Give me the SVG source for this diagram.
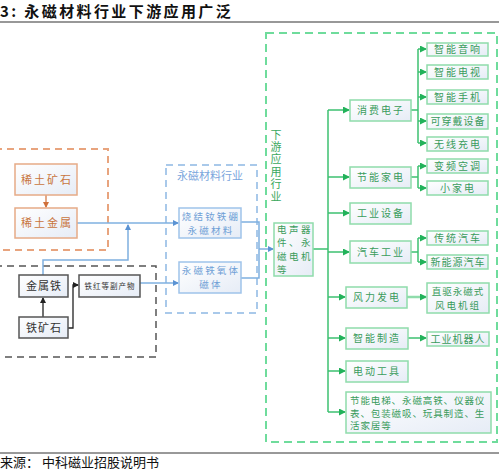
<svg xmlns="http://www.w3.org/2000/svg" width="499" height="471" viewBox="0 0 499 471">
<defs>
  <linearGradient id="bf" x1="0" y1="0" x2="1" y2="1">
    <stop offset="0" stop-color="#ffffff"/>
    <stop offset="1" stop-color="#e6ecf6"/>
  </linearGradient>
  <marker id="mO" markerWidth="6" markerHeight="6" refX="5" refY="3" orient="auto" markerUnits="userSpaceOnUse"><path d="M0,0 L6,3 L0,6 Z" fill="#d0703a"/></marker>
  <marker id="mB" markerWidth="6" markerHeight="6" refX="5" refY="3" orient="auto" markerUnits="userSpaceOnUse"><path d="M0,0 L6,3 L0,6 Z" fill="#5b93d3"/></marker>
  <marker id="mK" markerWidth="6" markerHeight="6" refX="5" refY="3" orient="auto" markerUnits="userSpaceOnUse"><path d="M0,0 L6,3 L0,6 Z" fill="#222"/></marker>
  <marker id="mG" markerWidth="7" markerHeight="7" refX="6" refY="3.5" orient="auto" markerUnits="userSpaceOnUse"><path d="M0,0 L7,3.5 L0,7 Z" fill="#22b25a"/></marker>
</defs>
<style>
  .t{font-family:"Noto Sans CJK SC","Noto Sans",sans-serif;}
  .bo{fill:url(#bf);stroke:#e6ab87;stroke-width:1.5;}
  .bb{fill:url(#bf);stroke:#9fc3ea;stroke-width:1.5;}
  .bk{fill:url(#bf);stroke:#555;stroke-width:1.5;}
  .bg{fill:url(#bf);stroke:#8fdcab;stroke-width:1.5;}
  .to{fill:#c8753e;font-size:11px;letter-spacing:2px;}
  .tb{fill:#6f9fd6;font-size:9.5px;letter-spacing:2.2px;}
  .tk{fill:#333;font-size:11px;letter-spacing:1px;}
  .tg{fill:#3a9c5c;font-size:10px;letter-spacing:2px;}
  .tg1{letter-spacing:1px;}
  .sm{font-size:9.5px;}
  .lo{stroke:#d0703a;stroke-width:1.2;fill:none;}
  .lb{stroke:#7fb0e0;stroke-width:1.5;fill:none;}
  .lk{stroke:#222;stroke-width:1.3;fill:none;}
  .lg{stroke:#3cc070;stroke-width:1.5;fill:none;}
</style>
<rect width="499" height="471" fill="#ffffff"/>
<!-- title -->
<text class="t" x="0" y="17" font-size="15" font-weight="bold" fill="#111" letter-spacing="2.4">3:  永磁材料行业下游应用广泛</text>
<line x1="0" y1="22" x2="499" y2="22" stroke="#333" stroke-width="1.2"/>
<line x1="0" y1="453" x2="499" y2="453" stroke="#333" stroke-width="1"/>
<text class="t" x="0" y="467" font-size="13" fill="#111">来源：  中科磁业招股说明书</text>

<!-- group frames -->
<g id="frames">
  <rect x="-5" y="149" width="113" height="101" fill="none" stroke="#e8a47e" stroke-width="2" stroke-dasharray="7,5"/>
  <rect x="-5" y="266" width="161" height="91" fill="none" stroke="#555" stroke-width="1.5" stroke-dasharray="7,5"/>
  <rect x="166" y="165" width="91" height="148" fill="none" stroke="#a9c9ea" stroke-width="2" stroke-dasharray="7,5"/>
  <text class="t" x="210" y="180" font-size="11" fill="#7aa6dc" text-anchor="middle">永磁材料行业</text>
  <rect x="266" y="33" width="231" height="409" fill="none" stroke="#6fdc9c" stroke-width="2" stroke-dasharray="8,5"/>
  <text class="t" x="276" y="129" font-size="11" fill="#3aa85e" writing-mode="vertical-rl" letter-spacing="1.4">下游应用行业</text>
</g>

<!-- connectors -->
<g id="connectors">
  <line class="lo" x1="46" y1="195" x2="46" y2="207" marker-end="url(#mO)"/>
  <polyline class="lb" points="77,223 178,223" marker-end="url(#mB)"/>
  <polyline class="lb" points="43,275 43,260 128,260 128,225" marker-end="url(#mB)"/>
  <line class="lk" x1="43" y1="317" x2="43" y2="298" marker-end="url(#mK)"/>
  <polyline class="lk" points="68,328 73,328 73,285 78,285" marker-end="url(#mK)"/>
  <polyline class="lb" points="140,283 178,283" marker-end="url(#mB)"/>
  <polyline class="lb" points="241,222 259,222 259,278 241,278"/>
  <polyline class="lb" points="259,249 273,249" marker-end="url(#mB)"/>

  <line class="lg" x1="313" y1="249" x2="328" y2="249"/>
  <line class="lg" x1="328" y1="110" x2="328" y2="412"/>
  <line class="lg" x1="328" y1="110" x2="349" y2="110" marker-end="url(#mG)"/>
  <line class="lg" x1="328" y1="177" x2="349" y2="177" marker-end="url(#mG)"/>
  <line class="lg" x1="328" y1="213" x2="349" y2="213" marker-end="url(#mG)"/>
  <line class="lg" x1="328" y1="252" x2="349" y2="252" marker-end="url(#mG)"/>
  <line class="lg" x1="328" y1="297" x2="345" y2="297" marker-end="url(#mG)"/>
  <line class="lg" x1="328" y1="338" x2="345" y2="338" marker-end="url(#mG)"/>
  <line class="lg" x1="328" y1="371" x2="345" y2="371" marker-end="url(#mG)"/>
  <line class="lg" x1="328" y1="412" x2="345" y2="412" marker-end="url(#mG)"/>

  <line class="lg" x1="411" y1="110" x2="418" y2="110"/>
  <line class="lg" x1="418" y1="49" x2="418" y2="143"/>
  <line class="lg" x1="418" y1="49" x2="426" y2="49" marker-end="url(#mG)"/>
  <line class="lg" x1="418" y1="72" x2="426" y2="72" marker-end="url(#mG)"/>
  <line class="lg" x1="418" y1="97" x2="426" y2="97" marker-end="url(#mG)"/>
  <line class="lg" x1="418" y1="121" x2="426" y2="121" marker-end="url(#mG)"/>
  <line class="lg" x1="418" y1="143" x2="426" y2="143" marker-end="url(#mG)"/>

  <line class="lg" x1="411" y1="177" x2="418" y2="177"/>
  <line class="lg" x1="418" y1="166" x2="418" y2="188"/>
  <line class="lg" x1="418" y1="166" x2="426" y2="166" marker-end="url(#mG)"/>
  <line class="lg" x1="418" y1="188" x2="426" y2="188" marker-end="url(#mG)"/>

  <line class="lg" x1="411" y1="252" x2="418" y2="252"/>
  <line class="lg" x1="418" y1="238" x2="418" y2="262"/>
  <line class="lg" x1="418" y1="238" x2="426" y2="238" marker-end="url(#mG)"/>
  <line class="lg" x1="418" y1="262" x2="426" y2="262" marker-end="url(#mG)"/>

  <line class="lg" x1="407" y1="297" x2="426" y2="297" marker-end="url(#mG)" style="stroke:#8fdcab;stroke-width:2.5"/>
  <line class="lg" x1="408" y1="338" x2="426" y2="338" marker-end="url(#mG)"/>
</g>

<!-- orange nodes -->
<g id="n-xitukuangshi"><rect class="bo" x="15" y="164" width="62" height="31"/><text class="t to" x="47" y="184" text-anchor="middle">稀土矿石</text></g>
<g id="n-xitujinshu"><rect class="bo" x="15" y="208" width="62" height="30"/><text class="t to" x="47" y="227" text-anchor="middle">稀土金属</text></g>
<!-- gray nodes -->
<g id="n-jinshutie"><rect class="bk" x="19" y="275" width="49" height="22"/><text class="t tk" x="44" y="290" text-anchor="middle">金属铁</text></g>
<g id="n-tiekuangshi"><rect class="bk" x="19" y="317" width="49" height="21"/><text class="t tk" x="44" y="332" text-anchor="middle">铁矿石</text></g>
<g id="n-tiehong"><rect class="bk" x="79" y="275" width="61" height="22"/><text class="t" x="110" y="289" font-size="7.5" fill="#333" text-anchor="middle" letter-spacing="1">铁红等副产物</text></g>
<!-- blue nodes -->
<g id="n-shaojie"><rect class="bb" x="179" y="208" width="62" height="30"/><text class="t tb" x="211" y="219.5" text-anchor="middle">烧结钕铁硼</text><text class="t tb" x="211" y="233.5" text-anchor="middle">永磁材料</text></g>
<g id="n-tieyangti"><rect class="bb" x="179" y="262" width="62" height="31"/><text class="t tb" x="211" y="274" text-anchor="middle">永磁铁氧体</text><text class="t tb" x="211" y="288" text-anchor="middle">磁体</text></g>
<!-- green nodes -->
<g id="n-dianshengqi"><rect class="bg" x="274" y="223" width="39" height="53"/>
  <text class="t tg sm" style="letter-spacing:2.5px"><tspan x="277" y="233">电声器</tspan><tspan x="277" y="246.3">件、永</tspan><tspan x="277" y="259.6">磁电机</tspan><tspan x="277" y="272.9">等</tspan></text>
</g>
<g id="n-xiaofei"><rect class="bg" x="350" y="100" width="61" height="21"/><text class="t tg" x="381" y="114" text-anchor="middle">消费电子</text></g>
<g id="n-jieneng"><rect class="bg" x="350" y="167" width="61" height="21"/><text class="t tg" x="381" y="181" text-anchor="middle">节能家电</text></g>
<g id="n-gongye"><rect class="bg" x="350" y="203" width="61" height="21"/><text class="t tg" x="381" y="217" text-anchor="middle">工业设备</text></g>
<g id="n-qiche"><rect class="bg" x="350" y="241" width="61" height="22"/><text class="t tg" x="381" y="256" text-anchor="middle">汽车工业</text></g>
<g id="n-fengli"><rect class="bg" x="346" y="287" width="61" height="21"/><text class="t tg" x="377" y="301" text-anchor="middle">风力发电</text></g>
<g id="n-zhineng"><rect class="bg" x="346" y="328" width="62" height="21"/><text class="t tg" x="377" y="342" text-anchor="middle">智能制造</text></g>
<g id="n-diandong"><rect class="bg" x="346" y="361" width="62" height="21"/><text class="t tg" x="377" y="375" text-anchor="middle">电动工具</text></g>
<g id="n-other"><rect class="bg" x="346" y="392" width="145" height="41"/>
  <text class="t tg" style="font-size:9.5px;letter-spacing:0.9px"><tspan x="350" y="404">节能电梯、永磁高铁、仪器仪</tspan><tspan x="350" y="416.5">表、包装磁吸、玩具制造、生</tspan><tspan x="350" y="429">活家居等</tspan></text>
</g>
<g id="n-yinxiang"><rect class="bg" x="427" y="43" width="61" height="13"/><text class="t tg" x="458" y="53" text-anchor="middle">智能音响</text></g>
<g id="n-dianshi"><rect class="bg" x="427" y="65" width="61" height="14"/><text class="t tg" x="458" y="76" text-anchor="middle">智能电视</text></g>
<g id="n-shouji"><rect class="bg" x="427" y="90" width="61" height="14"/><text class="t tg" x="458" y="101" text-anchor="middle">智能手机</text></g>
<g id="n-chuandai"><rect class="bg" x="427" y="114" width="61" height="15"/><text class="t tg tg1" x="458" y="125" text-anchor="middle">可穿戴设备</text></g>
<g id="n-wuxian"><rect class="bg" x="427" y="137" width="61" height="14"/><text class="t tg" x="458" y="148" text-anchor="middle">无线充电</text></g>
<g id="n-kongtiao"><rect class="bg" x="427" y="159" width="61" height="14"/><text class="t tg" x="458" y="170" text-anchor="middle">变频空调</text></g>
<g id="n-xiaojiadian"><rect class="bg" x="427" y="181" width="61" height="14"/><text class="t tg" x="458" y="192" text-anchor="middle">小家电</text></g>
<g id="n-chuantong"><rect class="bg" x="427" y="231" width="61" height="14"/><text class="t tg" x="458" y="242" text-anchor="middle">传统汽车</text></g>
<g id="n-xinnengyuan"><rect class="bg" x="427" y="255" width="61" height="14"/><text class="t tg tg1" x="458" y="266" text-anchor="middle">新能源汽车</text></g>
<g id="n-zhiqu"><rect class="bg" x="427" y="283" width="62" height="30"/><text class="t tg tg1 sm" x="458" y="295" text-anchor="middle">直驱永磁式</text><text class="t tg sm" x="458" y="309" text-anchor="middle">风电机组</text></g>
<g id="n-jiqiren"><rect class="bg" x="427" y="332" width="62" height="14"/><text class="t tg tg1" x="458" y="343" text-anchor="middle">工业机器人</text></g>
</svg>
